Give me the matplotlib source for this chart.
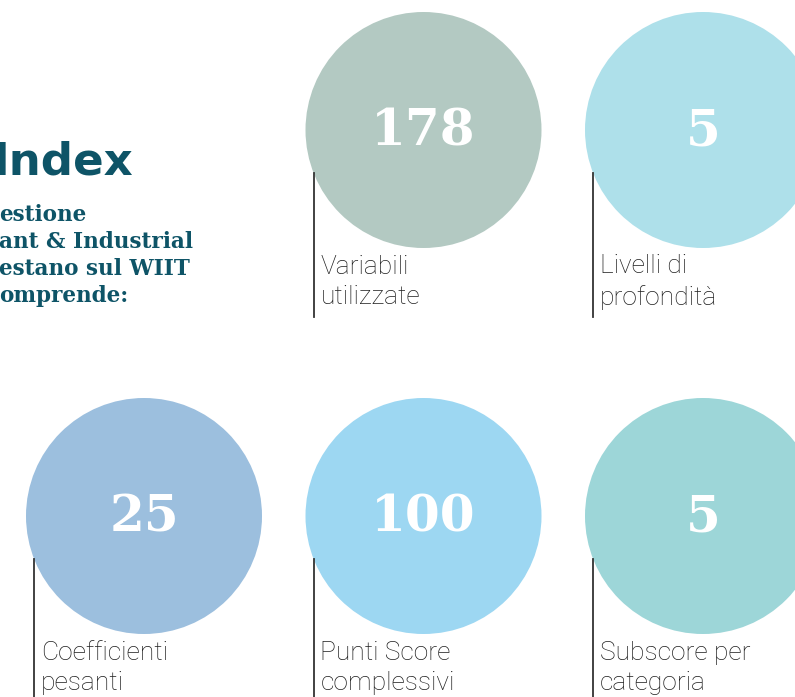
import matplotlib.pyplot as plt
from matplotlib.patches import Circle

# data
values = ["178", "5", "25", "100", "5"]
labels = ["Variabili\nutilizzate", "Livelli di\nprofondità",
          "Coefficienti\npesanti", "Punti Score\ncomplessivi", "Subscore per\ncategoria"]
grid_pos = [(0, 1), (0, 2), (1, 0), (1, 1), (1, 2)]  # (row, col)
colors = ["#b3c9c2", "#aee0ea", "#9cbfde", "#9dd7f2", "#9dd6d8"]

title = "Index"
subtitle = ["estione", "ant & Industrial", "estano sul WIIT", "omprende:"]
dark = "#0e5467"

W, H = 795, 697
fig = plt.figure(figsize=(W / 100, H / 100), dpi=100)
ax = fig.add_axes([0, 0, 1, 1])
ax.set_xlim(0, W)
ax.set_ylim(H, 0)
ax.axis("off")

col_x0, col_dx = 144, 279.5
row_y0, row_dy = 130, 386
r = 118

for val, lab, (row, col), c in zip(values, labels, grid_pos, colors):
    cx = col_x0 + col * col_dx
    cy = row_y0 + row * row_dy
    ax.add_patch(Circle((cx, cy), r, color=c, lw=0))
    ax.text(cx, cy + 2, val, ha="center", va="center", color="white",
            fontsize=36, fontweight="bold", family="DejaVu Serif")
    lx = cx - 110
    ax.plot([lx, lx], [cy + 43, cy + 187], color="#333333", lw=1.3)
    ax.text(lx + 7, cy + 152, lab, ha="left", va="center", color="#1e1e1e",
            fontsize=19, family="Roboto", fontweight="light", linespacing=1.32)

ax.text(-7, 162, title, ha="left", va="center", color=dark,
        fontsize=32.5, fontweight="bold", family="DejaVu Sans")
for i, line in enumerate(subtitle):
    ax.text(-1, 215 + i * 27, line, ha="left", va="center", color=dark,
            fontsize=15.5, fontweight="bold", family="DejaVu Serif")

fig.savefig("out.png", dpi=100)
